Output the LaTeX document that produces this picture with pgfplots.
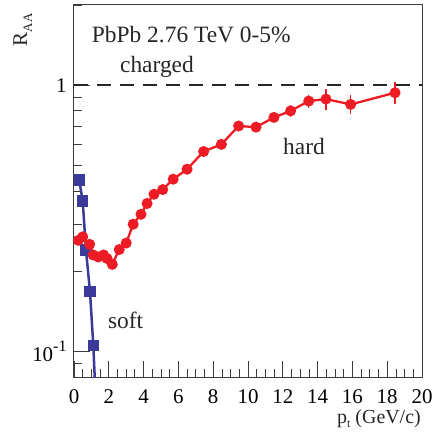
\documentclass[border=0pt]{standalone}
\usepackage{pgfplots}
\pgfplotsset{compat=1.18}
\usepackage{fontspec}
\setmainfont{Liberation Serif}
\definecolor{hardred}{RGB}{237,28,36}
\definecolor{softblue}{RGB}{58,58,155}
\definecolor{axgray}{RGB}{60,60,60}
\begin{document}
\begin{tikzpicture}
\path[use as bounding box] (-74bp,-61bp) rectangle (361bp,377bp);
\begin{axis}[
  at={(0,0)}, anchor=south west,
  scale only axis, width=348bp, height=372bp,
  xmin=0, xmax=20, ymode=log, ymin=0.08, ymax=2,
  xtick={0,2,...,20}, minor x tick num=3,
  ytick={0.1,1},
  yticklabels={10\raisebox{0.5em}{\fontsize{16}{16}\selectfont -1}, 1},
  minor ytick={0.08,0.09,0.2,0.3,0.4,0.5,0.6,0.7,0.8,0.9,2},
  tick align=inside, xtick pos=bottom, ytick pos=left,
  major tick length=16bp, minor tick length=8bp,
  tick style={axgray, line width=0.8bp},
  axis line style={axgray, line width=1bp},
  tick label style={font=\fontsize{21}{21}\selectfont},
  xticklabel style={yshift=-9bp},
  yticklabel style={xshift=-4bp},
  /pgf/number format/assume math mode=true,
  ylabel={R\raisebox{-5bp}{\fontsize{13}{13}\selectfont AA}},
  ylabel style={at={(rel axis cs:-0.135,0.978)}, anchor=base east, inner sep=0,
    font=\fontsize{21}{21}\selectfont, text=black!85},
  xlabel={p\raisebox{-4bp}{\fontsize{12}{12}\selectfont t} (GeV/c)},
  xlabel style={at={(rel axis cs:0.997,-0.126)}, anchor=base east, inner sep=0,
    font=\fontsize{20}{20}\selectfont, text=black!85},
  clip=true,
]
\addplot[black!85, line width=1.3bp, dash pattern=on 14bp off 9bp] coordinates {(0,1) (20,1)};

\addplot[softblue, line width=2.5bp, mark=square*, mark size=4.3bp, mark indices={1,2,3,4,5},
  mark options={solid}] coordinates {
  (0.30,0.44) (0.50,0.367) (0.69,0.24) (0.92,0.167) (1.11,0.105) (1.30,0.055)
};

\addplot[hardred, line width=2.3bp, mark=*, mark size=4.3bp,
  error bars/.cd, y dir=both, y explicit, error bar style={line width=1.3bp}, error mark=none]
  coordinates {
  (0.25,0.261) +- (0,0.005)
  (0.5,0.269) +- (0,0.005)
  (0.9,0.252) +- (0,0.005)
  (1.1,0.230) +- (0,0.005)
  (1.4,0.226) +- (0,0.005)
  (1.7,0.230) +- (0,0.005)
  (1.9,0.223) +- (0,0.005)
  (2.2,0.212) +- (0,0.005)
  (2.6,0.241) +- (0,0.005)
  (3.0,0.255) +- (0,0.005)
  (3.4,0.300) +- (0,0.006)
  (3.85,0.327) +- (0,0.006)
  (4.2,0.359) +- (0,0.007)
  (4.6,0.389) +- (0,0.008)
  (5.1,0.405) +- (0,0.008)
  (5.7,0.443) +- (0,0.009)
  (6.5,0.483) +- (0,0.010)
  (7.45,0.563) +- (0,0.012)
  (8.47,0.599) +- (0,0.014)
  (9.46,0.702) +- (0,0.016)
  (10.46,0.695) +- (0,0.018)
  (11.49,0.756) +- (0,0.026)
  (12.45,0.80) +- (0,0.04)
  (13.49,0.871) +- (0,0.05)
  (14.48,0.886) +- (0,0.08)
  (15.9,0.846) +- (0,0.07)
  (18.45,0.936) +- (0,0.09)
};

\node[anchor=base west, inner sep=0, font=\fontsize{23.5}{23.5}\selectfont, text=black!85]
  at (axis cs:1.02,1.451) {PbPb 2.76 TeV 0-5\%};
\node[anchor=base west, inner sep=0, font=\fontsize{23.5}{23.5}\selectfont, text=black!85]
  at (axis cs:2.64,1.119) {charged};
\node[anchor=base west, inner sep=0, font=\fontsize{23.5}{23.5}\selectfont, text=black!85]
  at (axis cs:12.01,0.550) {hard};
\node[anchor=base west, inner sep=0, font=\fontsize{23.5}{23.5}\selectfont, text=black!85]
  at (axis cs:1.95,0.122) {soft};
\end{axis}
\end{tikzpicture}
\end{document}
